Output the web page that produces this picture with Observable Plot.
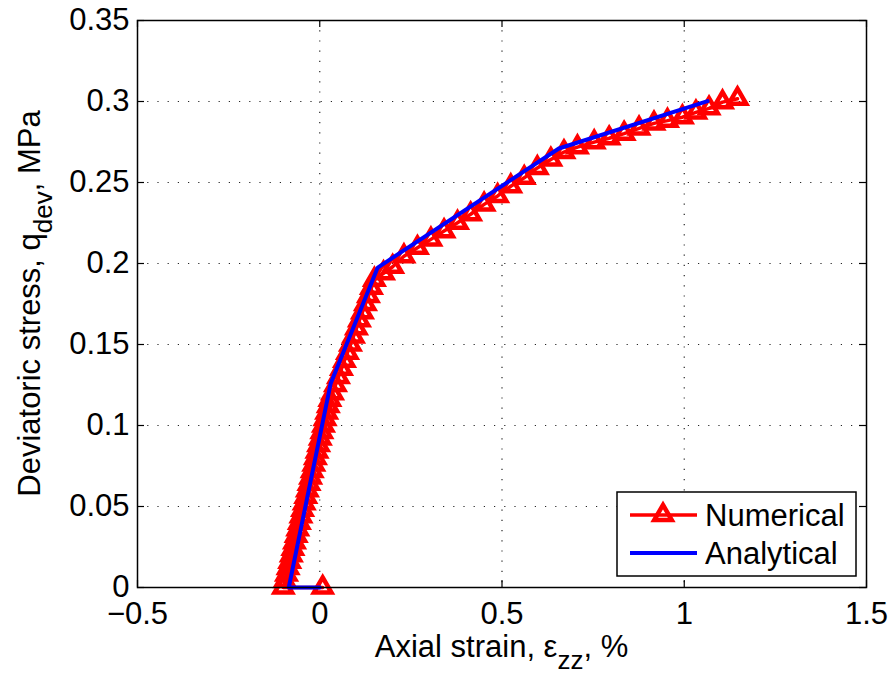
<!DOCTYPE html>
<html>
<head>
<meta charset="utf-8">
<script src="https://cdn.jsdelivr.net/npm/d3@7"></script>
<script src="https://cdn.jsdelivr.net/npm/@observablehq/plot@0.6"></script>
<style>
  html, body { margin: 0; padding: 0; background: #fff; }
  #chart { width: 893px; height: 679px; }
</style>
</head>
<body>
<div id="chart"></div>
<script>
// Tick values
const xTicks = [-0.5, 0, 0.5, 1, 1.5];
const xTickLabels = ["\u22120.5", "0", "0.5", "1", "1.5"];
const yTicks = [0, 0.05, 0.1, 0.15, 0.2, 0.25, 0.3, 0.35];
const yTickLabels = ["0", "0.05", "0.1", "0.15", "0.2", "0.25", "0.3", "0.35"];

// Series: Analytical
const analyticalX = [0, -0.085, 0.03, 0.159, 0.656, 1.064];
const analyticalY = [0, 0, 0.126, 0.1975, 0.271, 0.3002];

// Series: Numerical
const numericalX = [0.008, -0.1,
  -0.0956, -0.0912, -0.0868, -0.0824, -0.078, -0.0736, -0.0692, -0.0647, -0.0603, -0.0559,
  -0.0515, -0.0471, -0.0427, -0.0383, -0.0339, -0.0295, -0.0251, -0.0207, -0.0163, -0.0119,
  -0.0075, -0.0031, 0.0014, 0.0058, 0.0102, 0.0146, 0.019, 0.0234, 0.0278, 0.035,
  0.0432, 0.0514, 0.0596, 0.0679, 0.0761, 0.0843, 0.0925, 0.1007, 0.1089, 0.1171,
  0.1254, 0.1336, 0.1418, 0.15, 0.175, 0.2,
  0.231, 0.268, 0.305, 0.341, 0.378, 0.414, 0.451, 0.488, 0.524, 0.561, 0.597, 0.634,
  0.67, 0.707, 0.753, 0.794, 0.835, 0.876, 0.917, 0.954, 0.995, 1.032, 1.068, 1.105, 1.146];
const numericalY = [0, 0,
  0.004, 0.008, 0.012, 0.016, 0.02, 0.024, 0.028, 0.032, 0.036, 0.04,
  0.044, 0.048, 0.052, 0.056, 0.06, 0.064, 0.068, 0.072, 0.076, 0.08,
  0.084, 0.088, 0.092, 0.096, 0.1, 0.104, 0.108, 0.112, 0.116, 0.12,
  0.125, 0.13, 0.135, 0.14, 0.145, 0.15, 0.155, 0.16, 0.165, 0.17,
  0.175, 0.18, 0.185, 0.19, 0.194, 0.198,
  0.2045, 0.2097, 0.2149, 0.22, 0.2252, 0.2304, 0.2365, 0.2417, 0.2477, 0.2529, 0.259, 0.2642,
  0.2688, 0.2718, 0.2749, 0.2773, 0.2802, 0.2834, 0.2865, 0.2882, 0.2903, 0.2933, 0.2958, 0.2996, 0.3017];

const analytical = analyticalX.map((x, i) => ({x, y: analyticalY[i]}));
const numerical = numericalX.map((x, i) => ({x, y: numericalY[i]}));

const W = 893, H = 679;
const mL = 137, mR = 27, mT = 20, mB = 92;
const innerW = W - mL - mR, innerH = H - mT - mB;
const FONT = "'Liberation Sans', Arial, Helvetica, sans-serif";
const FS = 31;
const SUB = 26;
const tickLen = 7;
const markerR = 6.5;
const markerSW = 4.5;

const plot = Plot.plot({
  width: W, height: H,
  marginLeft: mL, marginRight: mR, marginTop: mT, marginBottom: mB,
  style: {fontFamily: FONT, fontSize: FS + "px", background: "#fff", color: "#000"},
  x: {domain: [-0.5, 1.5]},
  y: {domain: [0, 0.35]},
  marks: [
    Plot.gridX(xTicks.slice(1, -1), {stroke: "#000", strokeOpacity: 0.85, strokeWidth: 1.2, strokeDasharray: "1.2,9"}),
    Plot.gridY(yTicks.slice(1, -1), {stroke: "#000", strokeOpacity: 0.85, strokeWidth: 1.2, strokeDasharray: "1.2,9"}),
    Plot.tickX(xTicks, {x: d => d, insetTop: innerH - tickLen, stroke: "#000", strokeWidth: 1.2}),
    Plot.tickX(xTicks, {x: d => d, insetBottom: innerH - tickLen, stroke: "#000", strokeWidth: 1.2}),
    Plot.tickY(yTicks, {y: d => d, insetRight: innerW - tickLen, stroke: "#000", strokeWidth: 1.2}),
    Plot.tickY(yTicks, {y: d => d, insetLeft: innerW - tickLen, stroke: "#000", strokeWidth: 1.2}),
    Plot.axisX(xTicks, {anchor: "bottom", tickSize: 0, tickPadding: 14, tickFormat: (d, i) => xTickLabels[i], label: null, fontSize: FS}),
    Plot.axisY(yTicks, {anchor: "left", tickSize: 0, tickPadding: 8, tickFormat: (d, i) => yTickLabels[i], label: null, fontSize: FS}),
    Plot.line(numerical, {x: "x", y: "y", stroke: "#ff0000", strokeWidth: 3.5}),
    Plot.dot(numerical, {x: "x", y: "y", symbol: "triangle", r: markerR, stroke: "#ff0000", strokeWidth: markerSW, fill: "none"}),
    Plot.line(analytical, {x: "x", y: "y", stroke: "#0000ff", strokeWidth: 4}),
    Plot.frame({stroke: "#000", strokeWidth: 1.5})
  ]
});
document.getElementById("chart").appendChild(plot);

const svg = d3.select(plot);

// Axis titles
const xl = svg.append("text")
  .attr("x", mL + innerW / 2).attr("y", 657)
  .attr("text-anchor", "middle")
  .attr("font-family", FONT).attr("font-size", FS).attr("fill", "#000");
xl.append("tspan").text("Axial strain, \u03b5");
xl.append("tspan").attr("dy", 12).attr("font-size", SUB).text("zz");
xl.append("tspan").attr("dy", -12).text(", %");

const yl = svg.append("text")
  .attr("transform", `translate(40,${mT + innerH / 2}) rotate(-90)`)
  .attr("text-anchor", "middle")
  .attr("font-family", FONT).attr("font-size", FS).attr("fill", "#000");
yl.append("tspan").text("Deviatoric stress, q");
yl.append("tspan").attr("dy", 12).attr("font-size", SUB).text("dev");
yl.append("tspan").attr("dy", -12).text(", MPa");

// Legend
const lg = svg.append("g").attr("text-anchor", "start");
lg.append("rect").attr("x", 617).attr("y", 492).attr("width", 239).attr("height", 84)
  .attr("fill", "#fff").attr("stroke", "#000").attr("stroke-width", 1.5);
lg.append("line").attr("x1", 630).attr("x2", 697).attr("y1", 515).attr("y2", 515)
  .attr("stroke", "#ff0000").attr("stroke-width", 3.5);
lg.append("path").attr("d", d3.symbol(d3.symbolTriangle, Math.PI * markerR * markerR)())
  .attr("transform", "translate(663,515)")
  .attr("fill", "none").attr("stroke", "#ff0000").attr("stroke-width", markerSW);
lg.append("line").attr("x1", 630).attr("x2", 697).attr("y1", 553).attr("y2", 553)
  .attr("stroke", "#0000ff").attr("stroke-width", 4);
lg.append("text").attr("x", 705).attr("y", 526).attr("text-anchor", "start")
  .attr("font-family", FONT).attr("font-size", FS).attr("fill", "#000").text("Numerical");
lg.append("text").attr("x", 705).attr("y", 564).attr("text-anchor", "start")
  .attr("font-family", FONT).attr("font-size", FS).attr("fill", "#000").text("Analytical");
</script>
</body>
</html>
